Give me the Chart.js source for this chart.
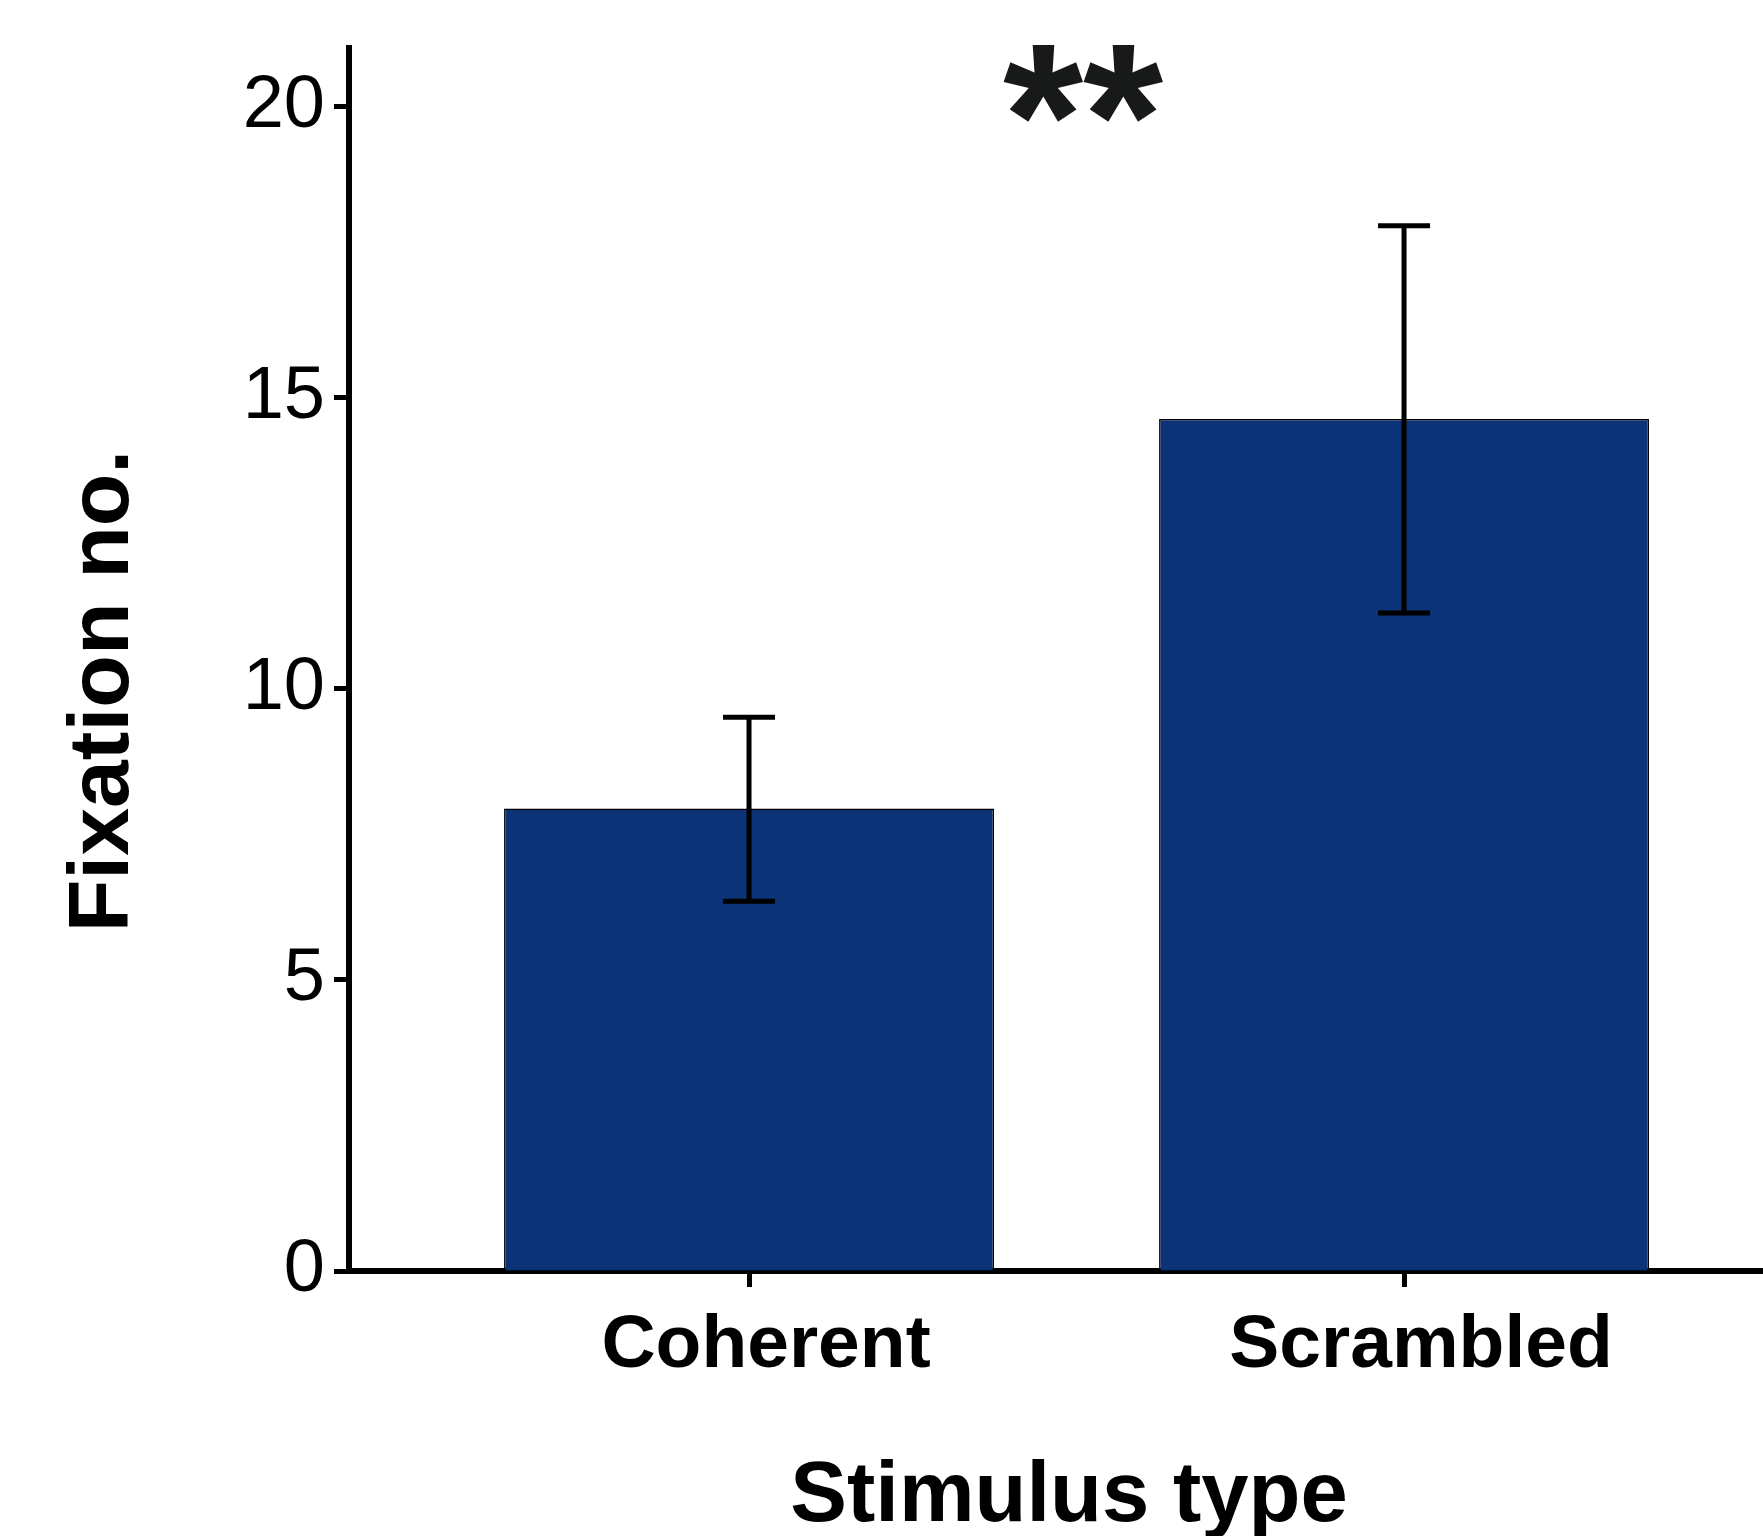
<!DOCTYPE html>
<html>
<head>
<meta charset="utf-8">
<script src="https://cdn.jsdelivr.net/npm/chart.js@4.4.1/dist/chart.umd.min.js"></script>
<style>
  html, body { margin: 0; padding: 0; background: #ffffff; }
  #wrap { width: 1763px; height: 1536px; }
</style>
</head>
<body>
<div id="wrap"><canvas id="c" width="1763" height="1536"></canvas></div>
<script>
// ---- data ----
const categories = ['Coherent', 'Scrambled'];
const means = [7.94, 14.63];
const errLow = [6.35, 11.30];
const errHigh = [9.51, 17.95];
const yTicks = [0, 5, 10, 15, 20];
const yTitle = 'Fixation no.';
const xTitle = 'Stimulus type';
const sigLabel = '**';

const FONT = '"Liberation Sans", Arial, Helvetica, sans-serif';

const errorBars = {
  id: 'errorBars',
  afterDatasetsDraw(chart) {
    const ctx = chart.ctx, xs = chart.scales.x, ys = chart.scales.y;
    ctx.save();
    ctx.strokeStyle = '#000000';
    ctx.lineWidth = 5;
    ctx.lineCap = 'butt';
    categories.forEach((c, i) => {
      const x = xs.getPixelForValue(i);
      const yl = ys.getPixelForValue(errLow[i]);
      const yh = ys.getPixelForValue(errHigh[i]);
      ctx.beginPath();
      ctx.moveTo(x, yl); ctx.lineTo(x, yh);
      ctx.moveTo(x - 26, yl); ctx.lineTo(x + 26, yl);
      ctx.moveTo(x - 26, yh); ctx.lineTo(x + 26, yh);
      ctx.stroke();
    });
    ctx.restore();
  }
};

const annotations = {
  id: 'annotations',
  afterDraw(chart) {
    const ctx = chart.ctx, xs = chart.scales.x, ys = chart.scales.y;
    ctx.save();
    // significance stars
    ctx.font = 'bold 206px ' + FONT;
    ctx.fillStyle = '#181a19';
    ctx.textAlign = 'center';
    ctx.textBaseline = 'alphabetic';
    const m = ctx.measureText(sigLabel);
    const topY = ys.getPixelForValue(21.05);
    ctx.fillText(sigLabel, xs.getPixelForValue(0.51), topY + m.actualBoundingBoxAscent);
    // x title
    ctx.fillStyle = '#000000';
    ctx.font = 'bold 85px ' + FONT;
    ctx.fillText(xTitle, 1069, 1521);
    // y title
    ctx.font = 'bold 86px ' + FONT;
    ctx.translate(128, 691);
    ctx.rotate(-Math.PI / 2);
    ctx.fillText(yTitle, 0, 0);
    ctx.restore();
  }
};

new Chart(document.getElementById('c'), {
  type: 'bar',
  data: {
    datasets: [{
      data: categories.map((c, i) => ({ x: i, y: means[i] })),
      backgroundColor: '#0c3377',
      borderColor: '#000000',
      borderWidth: 1.5,
      borderSkipped: 'bottom',
      barPercentage: 0.748,
      categoryPercentage: 1.0
    }]
  },
  options: {
    responsive: false,
    devicePixelRatio: 1,
    animation: false,
    layout: { padding: { top: 48, left: 0, right: 0, bottom: 0 } },
    plugins: { legend: { display: false }, tooltip: { enabled: false }, title: { display: false } },
    scales: {
      x: {
        type: 'linear',
        offset: false,
        min: -0.6107,
        max: 1.548,
        afterBuildTicks: (s) => { s.ticks = categories.map((c, i) => ({ value: i })); },
        afterFit: (s) => { s.height = 265; s.paddingLeft = 0; s.paddingRight = 0; },
        grid: { offset: false, drawOnChartArea: false, drawTicks: true, tickLength: 16, tickWidth: 5, tickColor: '#000000' },
        border: { display: true, width: 6, color: '#000000' },
        ticks: {
          callback: (v) => categories[v],
          color: '#000000',
          font: { family: FONT, size: 75, weight: 'bold' },
          padding: 14,
          labelOffset: 17,
          maxRotation: 0,
          autoSkip: false
        }
      },
      y: {
        min: 0,
        max: 21,
        afterBuildTicks: (s) => { s.ticks = yTicks.map(v => ({ value: v })); },
        afterFit: (s) => { s.width = 349; s.paddingTop = 0; s.paddingBottom = 0; },
        grid: { drawOnChartArea: false, drawTicks: true, tickLength: 15, tickWidth: 5, tickColor: '#000000' },
        border: { display: true, width: 6, color: '#000000' },
        ticks: {
          color: '#000000',
          font: { family: FONT, size: 74 },
          padding: 9
        }
      }
    }
  },
  plugins: [errorBars, annotations]
});
</script>
</body>
</html>
